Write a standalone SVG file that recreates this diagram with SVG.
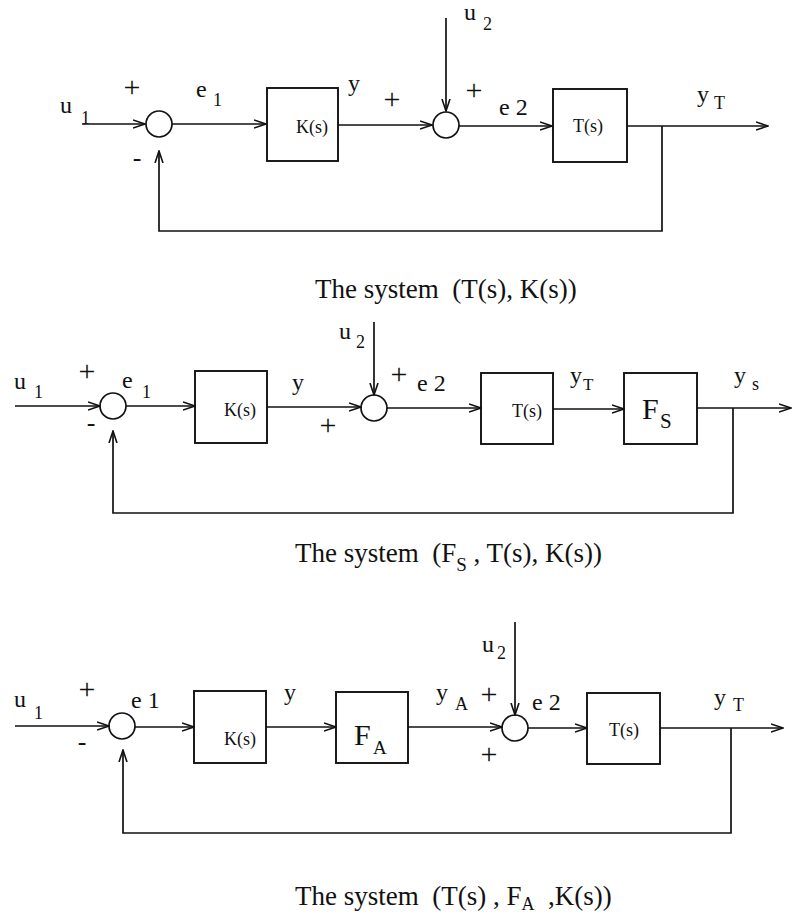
<svg xmlns="http://www.w3.org/2000/svg" width="792" height="917" viewBox="0 0 792 917">
<style>
.ln{stroke:#111;stroke-width:1.7;fill:none}
.box{stroke:#111;stroke-width:1.9;fill:none}
.sum{stroke:#111;stroke-width:1.7;fill:none}
text{font-family:"Liberation Serif","Times New Roman",serif;fill:#111;white-space:pre}
.lb{font-size:24px}
.sb{font-size:18px}
.pl{font-size:30px;text-anchor:middle}
.mi{font-size:26px;text-anchor:middle}
.bx{font-size:18px;text-anchor:middle}
.big{font-size:30px}
.cap{font-size:27px}
</style>
<defs>
<marker id="ah" markerWidth="13" markerHeight="10" refX="12" refY="5" orient="auto" markerUnits="userSpaceOnUse">
<path d="M0,1 L12,5 L0,9" fill="none" stroke="#111" stroke-width="1.6"/>
</marker>
</defs>

<!-- Diagram 1 -->
<g id="d1-connectors">
<path class="ln" d="M82,124 H145" marker-end="url(#ah)"/>
<path class="ln" d="M172,124 H266" marker-end="url(#ah)"/>
<path class="ln" d="M338,125 H432" marker-end="url(#ah)"/>
<path class="ln" d="M446,18 V111" marker-end="url(#ah)"/>
<path class="ln" d="M459,126 H552" marker-end="url(#ah)"/>
<path class="ln" d="M627,126 H768" marker-end="url(#ah)"/>
<path class="ln" d="M662,126 V231 H159 V151" marker-end="url(#ah)"/>
</g>
<g id="d1-sum1"><circle class="sum" cx="159" cy="124" r="13"/></g>
<g id="d1-K"><rect class="box" x="267" y="88" width="71" height="73"/><text class="bx" x="312" y="133">K(s)</text></g>
<g id="d1-sum2"><circle class="sum" cx="446" cy="125" r="13"/></g>
<g id="d1-T"><rect class="box" x="553" y="89" width="74" height="73"/><text class="bx" x="588" y="132">T(s)</text></g>
<g id="d1-labels">
<text class="lb" x="60" y="113">u</text><text class="sb" x="81" y="124">1</text>
<text class="pl" x="132" y="97">+</text>
<text class="mi" x="137" y="166">-</text>
<text class="lb" x="196" y="97">e</text><text class="sb" x="213" y="106">1</text>
<text class="lb" x="348" y="91">y</text>
<text class="pl" x="392" y="109">+</text>
<text class="lb" x="464" y="20">u</text><text class="sb" x="483" y="30">2</text>
<text class="pl" x="474" y="100">+</text>
<text class="lb" x="499" y="115">e 2</text>
<text class="lb" x="697" y="102">y</text><text class="sb" x="714" y="109">T</text>
<text class="cap" x="315" y="298">The system  (T(s), K(s))</text>
</g>

<!-- Diagram 2 -->
<g id="d2-connectors">
<path class="ln" d="M15,406 H100" marker-end="url(#ah)"/>
<path class="ln" d="M126,406 H195" marker-end="url(#ah)"/>
<path class="ln" d="M267,407 H361" marker-end="url(#ah)"/>
<path class="ln" d="M374,322 V395" marker-end="url(#ah)"/>
<path class="ln" d="M387,408 H481" marker-end="url(#ah)"/>
<path class="ln" d="M553,409 H624" marker-end="url(#ah)"/>
<path class="ln" d="M697,408 H791" marker-end="url(#ah)"/>
<path class="ln" d="M733,408 V513 H113 V431" marker-end="url(#ah)"/>
</g>
<g id="d2-sum1"><circle class="sum" cx="113" cy="406" r="13"/></g>
<g id="d2-K"><rect class="box" x="195" y="371" width="72" height="72"/><text class="bx" x="240" y="416">K(s)</text></g>
<g id="d2-sum2"><circle class="sum" cx="374" cy="408" r="13"/></g>
<g id="d2-T"><rect class="box" x="481" y="373" width="72" height="71"/><text class="bx" x="527" y="417">T(s)</text></g>
<g id="d2-FS"><rect class="box" x="624" y="373" width="73" height="71"/><text class="big" x="642" y="419">F</text><text style="font-size:21px" x="660" y="428">S</text></g>
<g id="d2-labels">
<text class="lb" x="14" y="389">u</text><text class="sb" x="34" y="398">1</text>
<text class="pl" x="87" y="381">+</text>
<text class="mi" x="91" y="431">-</text>
<text class="lb" x="122" y="388">e</text><text class="sb" x="142" y="398">1</text>
<text class="lb" x="292" y="390">y</text>
<text class="pl" x="328" y="435">+</text>
<text class="lb" x="339" y="339">u</text><text class="sb" x="356" y="348">2</text>
<text class="pl" x="399" y="384">+</text>
<text class="lb" x="417" y="391">e 2</text>
<text class="lb" x="570" y="383">y</text><text style="font-size:17px" x="583" y="390">T</text>
<text class="lb" x="734" y="383">y</text><text class="sb" x="752" y="390">s</text>
<text class="cap" x="295" y="562">The system  (F<tspan dy="9" style="font-size:19px">S</tspan><tspan dy="-9"> , T(s), K(s))</tspan></text>
</g>

<!-- Diagram 3 -->
<g id="d3-connectors">
<path class="ln" d="M15,726 H109" marker-end="url(#ah)"/>
<path class="ln" d="M135,727 H194" marker-end="url(#ah)"/>
<path class="ln" d="M266,727 H336" marker-end="url(#ah)"/>
<path class="ln" d="M408,727 H502" marker-end="url(#ah)"/>
<path class="ln" d="M515,622 V715" marker-end="url(#ah)"/>
<path class="ln" d="M528,728 H587" marker-end="url(#ah)"/>
<path class="ln" d="M660,728 H783" marker-end="url(#ah)"/>
<path class="ln" d="M731,728 V833 H123 V750" marker-end="url(#ah)"/>
</g>
<g id="d3-sum1"><circle class="sum" cx="122" cy="726" r="13"/></g>
<g id="d3-K"><rect class="box" x="194" y="691" width="72" height="72"/><text class="bx" x="240" y="745">K(s)</text></g>
<g id="d3-FA"><rect class="box" x="336" y="692" width="72" height="71"/><text class="big" x="354" y="745">F</text><text style="font-size:19px" x="373" y="754">A</text></g>
<g id="d3-sum2"><circle class="sum" cx="515" cy="728" r="13"/></g>
<g id="d3-T"><rect class="box" x="587" y="693" width="73" height="71"/><text class="bx" x="624" y="736">T(s)</text></g>
<g id="d3-labels">
<text class="lb" x="14" y="707">u</text><text class="sb" x="34" y="719">1</text>
<text class="pl" x="87" y="699">+</text>
<text class="mi" x="82" y="750">-</text>
<text class="lb" x="131" y="708">e 1</text>
<text class="lb" x="284" y="700">y</text>
<text class="lb" x="436" y="700">y</text><text class="sb" x="455" y="710">A</text>
<text class="pl" x="489" y="704">+</text>
<text class="pl" x="489" y="764">+</text>
<text class="lb" x="482" y="652">u</text><text class="sb" x="497" y="659">2</text>
<text class="lb" x="532" y="710">e 2</text>
<text class="lb" x="714" y="705">y</text><text class="sb" x="733" y="711">T</text>
<text class="cap" x="295" y="905">The system  (T(s) , F<tspan dy="5" style="font-size:18px">A</tspan><tspan dy="-5">  ,K(s))</tspan></text>
</g>
</svg>
